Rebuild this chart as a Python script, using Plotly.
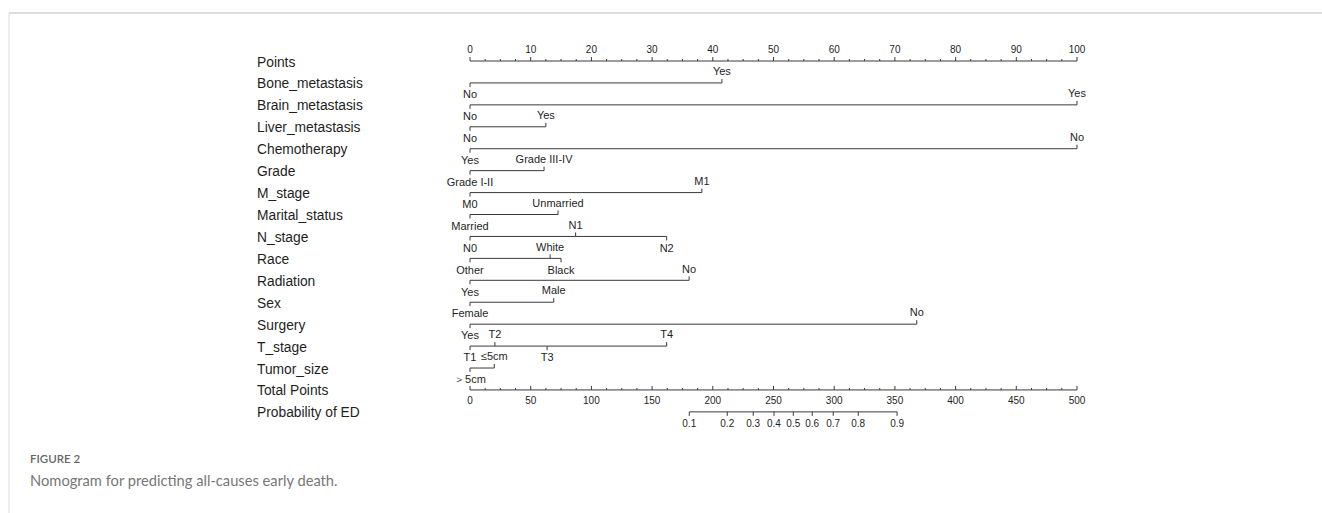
import plotly.graph_objects as go

# ---- nomogram content -------------------------------------------------
row_names = ["Points", "Bone_metastasis", "Brain_metastasis", "Liver_metastasis",
             "Chemotherapy", "Grade", "M_stage", "Marital_status", "N_stage", "Race",
             "Radiation", "Sex", "Surgery", "T_stage", "Tumor_size",
             "Total Points", "Probability of ED"]

var_names = ["Bone_metastasis", "Brain_metastasis", "Liver_metastasis", "Chemotherapy",
             "Grade", "M_stage", "Marital_status", "N_stage", "Race", "Radiation",
             "Sex", "Surgery", "T_stage", "Tumor_size"]

var_levels = [
    ["No", "Yes"],
    ["No", "Yes"],
    ["No", "Yes"],
    ["Yes", "No"],
    ["Grade I-II", "Grade III-IV"],
    ["M0", "M1"],
    ["Married", "Unmarried"],
    ["N0", "N1", "N2"],
    ["Other", "White", "Black"],
    ["Yes", "No"],
    ["Female", "Male"],
    ["Yes", "No"],
    ["T1", "T2", "T3", "T4"],
    ["＞5cm", "≤5cm"],
]

var_points = [
    [0, 41.5],
    [0, 100],
    [0, 12.5],
    [0, 100],
    [0, 12.2],
    [0, 38.2],
    [0, 14.5],
    [0, 17.4, 32.4],
    [0, 13.2, 15.0],
    [0, 36.1],
    [0, 13.8],
    [0, 73.6],
    [0, 4.1, 12.7, 32.4],
    [0, 4.0],
]

points_ticks = [0, 10, 20, 30, 40, 50, 60, 70, 80, 90, 100]
total_ticks = [0, 50, 100, 150, 200, 250, 300, 350, 400, 450, 500]
prob_values = [0.1, 0.2, 0.3, 0.4, 0.5, 0.6, 0.7, 0.8, 0.9]
prob_total_points = [180.6, 211.9, 233.3, 250.4, 266.3, 281.9, 299.2, 319.8, 351.8]

# ---- geometry --------------------------------------------------------
W, H = 1322, 513
X0_PX, X100_PX = 470, 1077
PX_PER_PT = (X100_PX - X0_PX) / 100.0
ROW0_PX, ROW_STEP = 61.0, 21.93

x_range = [-X0_PX / PX_PER_PT, (W - X0_PX) / PX_PER_PT]
x2_range = [v * 5 for v in x_range]          # total points: 0-500 over same span
y_range = [(H - ROW0_PX) / ROW_STEP, -ROW0_PX / ROW_STEP]


def rows_px(px):
    return px / ROW_STEP


TICK = rows_px(4)
MINOR = rows_px(2)
ABOVE = rows_px(-10.5)
BELOW = rows_px(12.5)

LINE = "#3a3a3a"
TEXT = "#1e1e1e"
FONT = "Arial, 'Liberation Sans', sans-serif"

fig = go.Figure()


def add_lines(xs, ys, xaxis="x"):
    fig.add_trace(go.Scatter(x=xs, y=ys, mode="lines", xaxis=xaxis,
                             line=dict(color=LINE, width=1), hoverinfo="skip"))


def add_text(xs, ys, texts, size, xaxis="x"):
    fig.add_trace(go.Scatter(x=xs, y=ys, mode="text", text=texts, xaxis=xaxis,
                             textposition="middle center", cliponaxis=False,
                             textfont=dict(family=FONT, size=size, color=TEXT),
                             hoverinfo="skip"))


# Points scale (ticks and labels above the line)
r = row_names.index("Points")
xs, ys = [0, 100, None], [r, r, None]
minor_step = 2.5
k = 0
while k * minor_step <= 100 + 1e-9:
    v = k * minor_step
    ln = TICK if abs(v / 10 - round(v / 10)) < 1e-9 else MINOR
    xs += [v, v, None]
    ys += [r, r - ln, None]
    k += 1
add_lines(xs, ys)
add_text(points_ticks, [r + rows_px(-11)] * len(points_ticks),
         [str(t) for t in points_ticks], 10)

# Predictor rows
for name, levels, pts in zip(var_names, var_levels, var_points):
    r = row_names.index(name)
    order = sorted(range(len(pts)), key=lambda i: pts[i])
    xs, ys = [min(pts), max(pts), None], [r, r, None]
    tx, ty, tt = [], [], []
    for j, i in enumerate(order):
        up = (j % 2 == 1)
        xs += [pts[i], pts[i], None]
        ys += [r, r - TICK if up else r + TICK, None]
        tx.append(pts[i])
        ty.append(r + (ABOVE if up else BELOW))
        tt.append(levels[i])
    add_lines(xs, ys)
    add_text(tx, ty, tt, 11)

# Total points scale
r = row_names.index("Total Points")
xs, ys = [0, 500, None], [r, r, None]
minor_step = 12.5
k = 0
while k * minor_step <= 500 + 1e-9:
    v = k * minor_step
    ln = TICK if abs(v / 50 - round(v / 50)) < 1e-9 else MINOR
    xs += [v, v, None]
    ys += [r, r - ln, None]
    k += 1
add_lines(xs, ys, "x2")
add_text(total_ticks, [r + rows_px(11.5)] * len(total_ticks),
         [str(t) for t in total_ticks], 10, "x2")

# Probability scale
r = row_names.index("Probability of ED")
xs, ys = [min(prob_total_points), max(prob_total_points), None], [r, r, None]
for v in prob_total_points:
    xs += [v, v, None]
    ys += [r, r + TICK, None]
add_lines(xs, ys, "x2")
add_text(prob_total_points, [r + rows_px(12.5)] * len(prob_values),
         [f"{p:.1f}" for p in prob_values], 10, "x2")

# Row titles
annotations = []
for i, name in enumerate(row_names):
    annotations.append(dict(x=255 / W, xref="paper", y=i + rows_px(1), yref="y",
                            text=name, showarrow=False, xanchor="left",
                            yanchor="middle",
                            font=dict(family=FONT, size=13.8, color=TEXT)))

# Caption
annotations.append(dict(x=28 / W, y=1 - 458 / H, xref="paper", yref="paper",
                        text="FIGURE 2", showarrow=False, xanchor="left",
                        yanchor="middle",
                        font=dict(family="Lato, 'Open Sans', sans-serif", size=11.5,
                                  color="#666666", weight=600)))
annotations.append(dict(x=28 / W, y=1 - 480 / H, xref="paper", yref="paper",
                        text="Nomogram for predicting all-causes early death.",
                        showarrow=False, xanchor="left", yanchor="middle",
                        font=dict(family="Lato, 'Open Sans', sans-serif", size=14.7,
                                  color="#777777")))

# Panel frame
shapes = [
    dict(type="line", xref="paper", yref="paper", x0=9 / W, x1=1, y0=1 - 13 / H,
         y1=1 - 13 / H, line=dict(color="#dcdcdc", width=2)),
    dict(type="line", xref="paper", yref="paper", x0=9 / W, x1=9 / W, y0=0,
         y1=1 - 13 / H, line=dict(color="#dcdcdc", width=1)),
]

fig.update_layout(
    width=W, height=H,
    margin=dict(l=0, r=0, t=0, b=0),
    paper_bgcolor="white", plot_bgcolor="white",
    showlegend=False, hovermode=False,
    xaxis=dict(range=x_range, visible=False, domain=[0, 1], fixedrange=True),
    xaxis2=dict(range=x2_range, visible=False, overlaying="x", fixedrange=True),
    yaxis=dict(range=y_range, visible=False, fixedrange=True),
    annotations=annotations,
    shapes=shapes,
)

fig.write_html("out.html", config={"displayModeBar": False})
